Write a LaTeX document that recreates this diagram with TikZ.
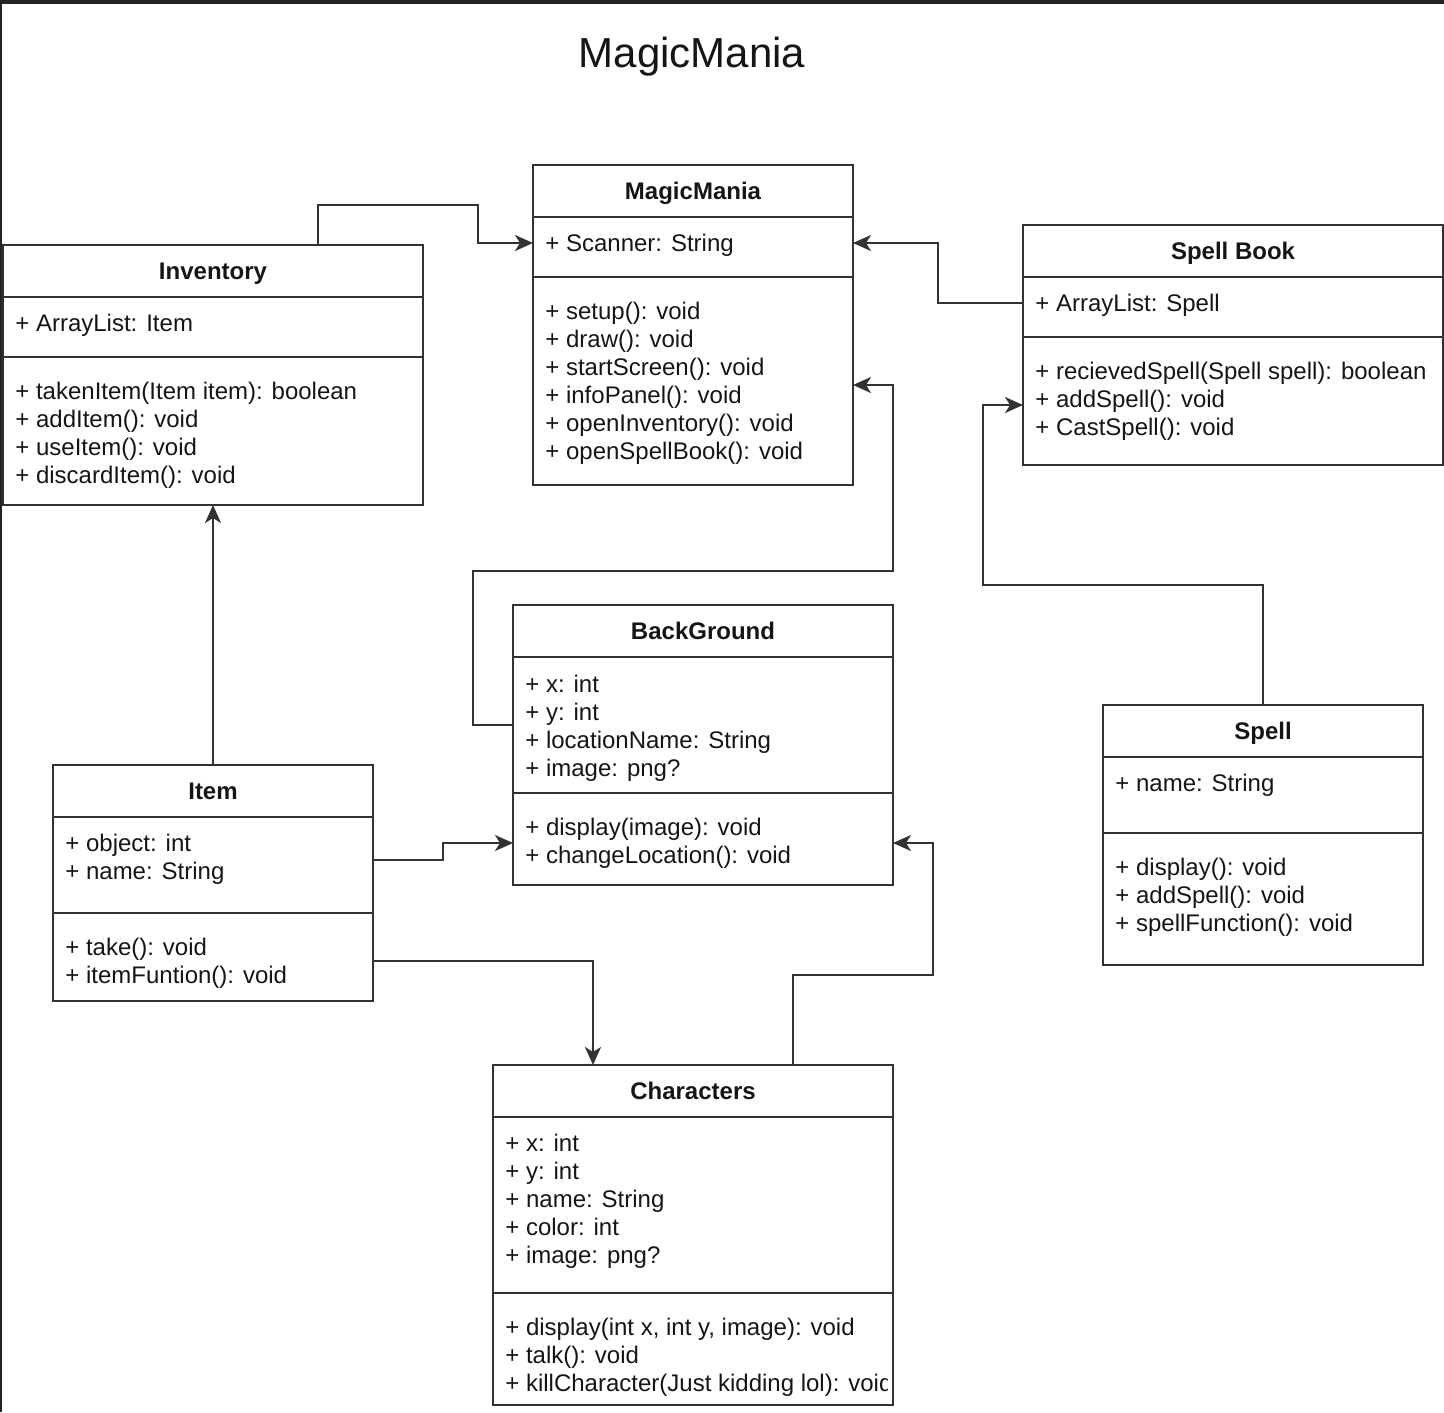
\documentclass[tikz,border=0pt]{standalone}
\usepackage{fontspec}
\setmainfont{Liberation Sans}
\usetikzlibrary{arrows.meta}

\definecolor{linegray}{HTML}{333333}
\definecolor{textblack}{HTML}{151515}
\definecolor{bandgray}{HTML}{232323}

\tikzset{
  compart/.style={draw=linegray, line width=1.1pt, inner sep=0pt, outer sep=0pt, anchor=north west},
  clshead/.style={compart, minimum height=26pt, text height=11pt, text depth=3pt, text=textblack, font=\bfseries\fontsize{12}{14}\selectfont},
  member/.style={anchor=west, align=left, inner sep=0pt, xshift=6pt, text=textblack, font=\fontsize{12}{14}\selectfont},
  link/.style={draw=linegray, line width=1.1pt, -{Stealth[length=9pt,width=8pt,inset=2.5pt]}},
}

\begin{document}
\begin{tikzpicture}[x=0.5pt,y=-0.5pt]
    \useasboundingbox (0,0) rectangle (1444,1412);
    \fill[bandgray] (0,0) rectangle (1444,4);
    \fill[bandgray] (0,0) rectangle (2,1412);

    \node[text=textblack, font=\fontsize{21}{25}\selectfont] (title) at (692,57) {MagicMania};

    % MagicMania
    \node[clshead, minimum width=160pt] (magic-h) at (533,165) {MagicMania};
    \node[compart, minimum width=160pt, minimum height=30pt] (magic-a) at (533,217) {};
    \node[compart, minimum width=160pt, minimum height=104pt] (magic-m) at (533,277) {};
    \node[member, yshift=1pt] at (magic-a.west) {+ Scanner: String};
    \node[member, yshift=-1pt] at (magic-m.west) {+ setup(): void\\+ draw(): void\\+ startScreen(): void\\+ infoPanel(): void\\+ openInventory(): void\\+ openSpellBook(): void};

    % Inventory
    \node[clshead, minimum width=210pt] (inv-h) at (3,245) {Inventory};
    \node[compart, minimum width=210pt, minimum height=30pt] (inv-a) at (3,297) {};
    \node[compart, minimum width=210pt, minimum height=74pt] (inv-m) at (3,357) {};
    \node[member, yshift=1pt] at (inv-a.west) {+ ArrayList: Item};
    \node[member, yshift=-2pt] at (inv-m.west) {+ takenItem(Item item): boolean\\+ addItem(): void\\+ useItem(): void\\+ discardItem(): void};

    % Spell Book
    \node[clshead, minimum width=210pt] (book-h) at (1023,225) {Spell Book};
    \node[compart, minimum width=210pt, minimum height=30pt] (book-a) at (1023,277) {};
    \node[compart, minimum width=210pt, minimum height=64pt] (book-m) at (1023,337) {};
    \node[member, yshift=1pt] at (book-a.west) {+ ArrayList: Spell};
    \node[member, yshift=0pt] at (book-m.west) {+ recievedSpell(Spell spell): boolean\\+ addSpell(): void\\+ CastSpell(): void};

    % BackGround
    \node[clshead, minimum width=190pt] (bg-h) at (513,605) {BackGround};
    \node[compart, minimum width=190pt, minimum height=68pt] (bg-a) at (513,657) {};
    \node[compart, minimum width=190pt, minimum height=46pt] (bg-m) at (513,793) {};
    \node[member, yshift=-1.5pt] at (bg-a.west) {+ x: int\\+ y: int\\+ locationName: String\\+ image: png?};
    \node[member, yshift=-2pt] at (bg-m.west) {+ display(image): void\\+ changeLocation(): void};

    % Item
    \node[clshead, minimum width=160pt] (item-h) at (53,765) {Item};
    \node[compart, minimum width=160pt, minimum height=48pt] (item-a) at (53,817) {};
    \node[compart, minimum width=160pt, minimum height=44pt] (item-m) at (53,913) {};
    \node[member, yshift=3pt] at (item-a.west) {+ object: int\\+ name: String};
    \node[member, yshift=-3pt] at (item-m.west) {+ take(): void\\+ itemFuntion(): void};

    % Spell
    \node[clshead, minimum width=160pt] (spell-h) at (1103,705) {Spell};
    \node[compart, minimum width=160pt, minimum height=38pt] (spell-a) at (1103,757) {};
    \node[compart, minimum width=160pt, minimum height=66pt] (spell-m) at (1103,833) {};
    \node[member, yshift=5pt] at (spell-a.west) {+ name: String};
    \node[member, yshift=1pt] at (spell-m.west) {+ display(): void\\+ addSpell(): void\\+ spellFunction(): void};

    % Characters
    \node[clshead, minimum width=200pt] (char-h) at (493,1065) {Characters};
    \node[compart, minimum width=200pt, minimum height=88pt] (char-a) at (493,1117) {};
    \node[compart, minimum width=200pt, minimum height=56pt] (char-m) at (493,1293) {};
    \node[member, yshift=2pt] at (char-a.west) {+ x: int\\+ y: int\\+ name: String\\+ color: int\\+ image: png?};
    \begin{scope}
        \clip (493,1293) rectangle (887,1405);
        \node[member, yshift=-4pt] at (char-m.west) {+ display(int x, int y, image): void\\+ talk(): void\\+ killCharacter(Just kidding lol): void};
    \end{scope}

    % links
    \draw[link] ([xshift=52.5pt]inv-h.north) |- (478,205) |- ([yshift=2pt]magic-a.west);
    \draw[link] ([yshift=2pt]book-a.west) -- ++(-85,0) |- ([yshift=2pt]magic-a.east);
    \draw[link] (bg-a.west) -- ++(-40,0) |- (893,571) |- ([yshift=-2pt]magic-m.east);
    \draw[link] (spell-h.north) |- (983,585) |- ([yshift=-2pt]book-m.west);
    \draw[link] (item-h.north) -- (inv-m.south);
    \draw[link] ([yshift=2.5pt]item-a.east) -- ++(70,0) |- ([yshift=-2pt]bg-m.west);
    \draw[link] ([yshift=-2pt]item-m.east) -| ([xshift=-50pt]char-h.north);
    \draw[link] ([xshift=50pt]char-h.north) |- (933,975) |- ([yshift=-2pt]bg-m.east);
\end{tikzpicture}
\end{document}
